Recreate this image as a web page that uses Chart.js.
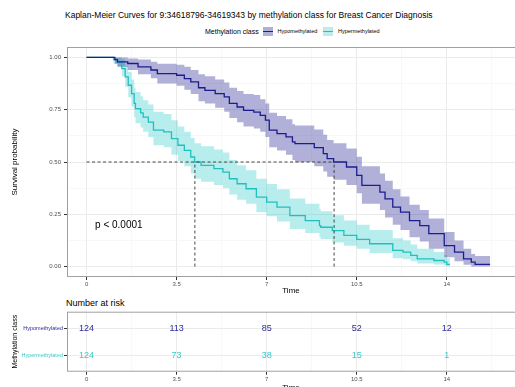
<!DOCTYPE html>
<html lang="en">
<head>
<meta charset="UTF-8" />
<title>Kaplan-Meier Curves</title>
<script src="https://cdn.jsdelivr.net/npm/chart.js"></script>
<style>
  body {
    margin: 0;
    width: 515px;
    height: 387px;
    overflow: hidden;
    background: #fff;
    position: relative;
    font-family: "Liberation Sans", Arial, sans-serif;
    color: #000;
  }
  .abs { position: absolute; white-space: nowrap; }
  #title { left: 65px; top: 10px; font-size: 8.5px; line-height: 10px; }
  #legTitle { left: 205px; top: 27.5px; font-size: 7px; line-height: 8px; }
  .key { width: 10px; height: 9px; top: 27px; }
  .key div { position: absolute; left: 0; right: 0; top: 3.7px; height: 1.6px; }
  .keyLabel { top: 28px; font-size: 5.5px; line-height: 7px; }
  #riskTitle { left: 66px; top: 297px; font-size: 9px; line-height: 12px; }
  #mainWrap { left: 0; top: 0; }
  #riskWrap { left: 0; top: 295px; }
</style>
</head>
<body>
  <div class="abs" id="title">Kaplan-Meier Curves for 9:34618796-34619343 by methylation class for Breast Cancer Diagnosis</div>
  <div class="abs" id="legTitle">Methylation class</div>
  <div class="abs key" style="left:263px;background:#b0b0d8"><div style="background:#1c1c8c"></div></div>
  <div class="abs keyLabel" style="left:277.5px">Hypomethylated</div>
  <div class="abs key" style="left:323px;background:#bcecec"><div style="background:#22bfbf"></div></div>
  <div class="abs keyLabel" style="left:338px">Hypermethylated</div>
  <div class="abs" id="riskTitle">Number at risk</div>

  <div class="abs" id="mainWrap"><canvas id="main" width="515" height="300"></canvas></div>
  <div class="abs" id="riskWrap"><canvas id="risk" width="515" height="105"></canvas></div>

<script>
// survival curves
const hypoTimes = [0, 1.1, 1.2, 1.6, 2.0, 2.5, 2.75, 3.5, 3.8, 4.05, 4.35, 4.6, 5.0, 5.35, 5.55, 5.85, 6.1, 6.5, 6.75, 6.95, 7.1, 7.4, 7.75, 8.0, 8.1, 8.85, 9.2, 9.35, 9.6, 10.1, 10.5, 10.7, 11.4, 11.6, 11.9, 12.2, 12.55, 12.95, 13.3, 13.9, 14.3, 14.65, 14.95, 15.1, 15.68];
const hypoSurv = [1.0, 0.99, 0.979, 0.971, 0.955, 0.94, 0.923, 0.915, 0.899, 0.883, 0.855, 0.843, 0.827, 0.811, 0.78, 0.763, 0.747, 0.739, 0.723, 0.70, 0.652, 0.636, 0.62, 0.596, 0.588, 0.569, 0.54, 0.516, 0.50, 0.476, 0.436, 0.388, 0.356, 0.324, 0.284, 0.26, 0.22, 0.196, 0.157, 0.10, 0.069, 0.037, 0.021, 0.01, 0.01];
const hypoUpper = [1.0, 1.0, 1.0, 0.995, 0.99, 0.98, 0.97, 0.965, 0.955, 0.94, 0.92, 0.91, 0.895, 0.88, 0.855, 0.84, 0.825, 0.82, 0.80, 0.78, 0.735, 0.72, 0.705, 0.68, 0.675, 0.655, 0.63, 0.605, 0.59, 0.565, 0.525, 0.48, 0.445, 0.41, 0.37, 0.335, 0.295, 0.27, 0.23, 0.165, 0.125, 0.085, 0.06, 0.05, 0.05];
const hypoLower = [1.0, 0.97, 0.955, 0.94, 0.92, 0.90, 0.875, 0.865, 0.845, 0.825, 0.79, 0.78, 0.76, 0.74, 0.71, 0.69, 0.67, 0.66, 0.645, 0.62, 0.57, 0.555, 0.535, 0.51, 0.50, 0.48, 0.455, 0.43, 0.415, 0.39, 0.35, 0.30, 0.27, 0.235, 0.20, 0.175, 0.14, 0.12, 0.085, 0.045, 0.025, 0.008, 0.0, 0.0, 0.0];

const hyperTimes = [0, 1.05, 1.2, 1.37, 1.5, 1.62, 1.75, 1.85, 1.9, 2.1, 2.2, 2.4, 2.6, 3.0, 3.3, 3.55, 3.8, 4.05, 4.2, 4.45, 4.95, 5.3, 5.55, 5.85, 6.2, 6.6, 7.0, 7.4, 7.9, 8.5, 9.05, 9.1, 9.55, 10.0, 10.5, 11.0, 11.9, 12.3, 12.6, 12.85, 13.5, 13.9, 14.0, 14.12];
const hyperSurv = [1.0, 0.99, 0.979, 0.947, 0.907, 0.867, 0.827, 0.78, 0.755, 0.735, 0.715, 0.691, 0.652, 0.644, 0.612, 0.58, 0.556, 0.524, 0.50, 0.484, 0.468, 0.452, 0.42, 0.396, 0.372, 0.332, 0.308, 0.284, 0.244, 0.22, 0.196, 0.188, 0.172, 0.149, 0.13, 0.109, 0.077, 0.069, 0.053, 0.037, 0.029, 0.021, 0.01, 0.01];
const hyperUpper = [1.0, 1.0, 1.0, 0.99, 0.96, 0.93, 0.895, 0.855, 0.835, 0.815, 0.795, 0.775, 0.74, 0.73, 0.70, 0.67, 0.645, 0.615, 0.59, 0.575, 0.56, 0.545, 0.51, 0.485, 0.46, 0.42, 0.395, 0.37, 0.325, 0.30, 0.275, 0.265, 0.245, 0.22, 0.20, 0.175, 0.135, 0.125, 0.105, 0.085, 0.07, 0.055, 0.04, 0.04];
const hyperLower = [1.0, 0.97, 0.955, 0.91, 0.86, 0.81, 0.765, 0.715, 0.685, 0.665, 0.645, 0.62, 0.58, 0.57, 0.535, 0.505, 0.48, 0.445, 0.42, 0.405, 0.39, 0.375, 0.345, 0.32, 0.30, 0.26, 0.24, 0.215, 0.18, 0.16, 0.14, 0.13, 0.115, 0.10, 0.085, 0.065, 0.04, 0.035, 0.025, 0.015, 0.01, 0.005, 0.0, 0.0];

// median survival times
const hypoMedian = 9.62;
const hyperMedian = 4.21;

// number at risk table
const riskTimes = [0, 3.5, 7, 10.5, 14];
const hypoRisk = [124, 113, 85, 52, 12];
const hyperRisk = [124, 73, 38, 15, 1];

const xTickValues = [0, 1.75, 3.5, 5.25, 7, 8.75, 10.5, 12.25, 14, 15.75];
const yTickValues = [0, 0.125, 0.25, 0.375, 0.5, 0.625, 0.75, 0.875, 1];
const yTickLabels = ["0.00", "", "0.25", "", "0.50", "", "0.75", "", "1.00"];

const navy = "#1c1c8c";
const navyFill = "rgba(0, 0, 128, 0.31)";
const cyan = "#22bfbf";
const cyanFill = "rgba(34, 200, 200, 0.32)";
const fontFamily = '"Liberation Sans", Arial, sans-serif';

const pts = (xs, ys) => xs.map((x, i) => ({ x: x, y: ys[i] }));
const isMajorX = v => Math.abs(v / 3.5 - Math.round(v / 3.5)) < 1e-6;
const isMajorY = v => Math.abs(v / 0.25 - Math.round(v / 0.25)) < 1e-6;

const xScale = (height, titlePad) => ({
  type: "linear",
  min: -0.76,
  max: 16.65,
  afterBuildTicks: s => { s.ticks = xTickValues.map(v => ({ value: v })); },
  afterFit: s => { s.height = height; },
  grid: {
    color: c => isMajorX(c.tick.value) ? "#ebebeb" : "#f4f4f4",
    lineWidth: c => isMajorX(c.tick.value) ? 1 : 0.6,
    tickColor: c => isMajorX(c.tick.value) ? "#333" : "rgba(0,0,0,0)",
    tickLength: 3
  },
  border: { display: false },
  ticks: {
    autoSkip: false,
    maxRotation: 0,
    padding: 1,
    color: "#4d4d4d",
    font: { family: fontFamily, size: 6 },
    callback: v => isMajorX(v) ? String(v) : ""
  },
  title: {
    display: true,
    text: "Time",
    color: "#000",
    font: { family: fontFamily, size: 8 },
    padding: { top: 0, bottom: titlePad }
  }
});

const panelBorder = {
  id: "panelBorder",
  afterDatasetsDraw(chart) {
    const a = chart.chartArea, ctx = chart.ctx;
    ctx.save();
    ctx.strokeStyle = "#a0a0a0";
    ctx.lineWidth = 1;
    ctx.strokeRect(a.left + 0.5, a.top + 0.5, a.right - a.left, a.bottom - a.top - 1);
    ctx.restore();
  }
};

const pValueLabel = {
  id: "pValueLabel",
  afterDatasetsDraw(chart) {
    const ctx = chart.ctx;
    ctx.save();
    ctx.font = "10px " + fontFamily;
    ctx.fillStyle = "#000";
    ctx.textAlign = "left";
    ctx.textBaseline = "middle";
    ctx.fillText("p < 0.0001", chart.scales.x.getPixelForValue(0.33), chart.scales.y.getPixelForValue(0.196));
    ctx.restore();
  }
};

const band = (xs, ys, color, fill) => ({
  data: pts(xs, ys), stepped: "before", borderWidth: 0, pointRadius: 0,
  backgroundColor: color, borderColor: "rgba(0,0,0,0)", fill: fill, order: 3
});
const curve = (xs, ys, color) => ({
  data: pts(xs, ys), stepped: "before", borderWidth: 1.3, pointRadius: 0,
  borderColor: color, fill: false, order: 1
});
const dashed = data => ({
  data: data, borderWidth: 0.9, pointRadius: 0, borderColor: "#333",
  borderDash: [3, 2.5], fill: false, order: 0
});

new Chart(document.getElementById("main"), {
  type: "line",
  data: {
    datasets: [
      band(hypoTimes, hypoUpper, navyFill, "+1"),
      band(hypoTimes, hypoLower, navyFill, false),
      band(hyperTimes, hyperUpper, cyanFill, "+1"),
      band(hyperTimes, hyperLower, cyanFill, false),
      curve(hypoTimes, hypoSurv, navy),
      curve(hyperTimes, hyperSurv, cyan),
      dashed([{ x: 0, y: 0.5 }, { x: hypoMedian, y: 0.5 }]),
      dashed([{ x: hyperMedian, y: 0 }, { x: hyperMedian, y: 0.5 }]),
      dashed([{ x: hypoMedian, y: 0 }, { x: hypoMedian, y: 0.5 }])
    ]
  },
  options: {
    responsive: false,
    animation: false,
    layout: { padding: { top: 47, right: 0, left: 0, bottom: 0 } },
    plugins: { legend: { display: false }, tooltip: { enabled: false } },
    scales: {
      x: xScale(23, 4),
      y: {
        type: "linear",
        min: -0.05,
        max: 1.05,
        afterBuildTicks: s => { s.ticks = yTickValues.map(v => ({ value: v })); },
        afterFit: s => { s.width = 67; },
        grid: {
          color: c => isMajorY(c.tick.value) ? "#ebebeb" : "#f4f4f4",
          lineWidth: c => isMajorY(c.tick.value) ? 1 : 0.6,
          tickColor: c => isMajorY(c.tick.value) ? "#333" : "rgba(0,0,0,0)",
          tickLength: 3
        },
        border: { display: false },
        ticks: {
          autoSkip: false,
          padding: 3,
          color: "#4d4d4d",
          font: { family: fontFamily, size: 6 },
          callback: (v, i) => yTickLabels[i]
        },
        title: {
          display: true,
          text: "Survival probability",
          color: "#000",
          font: { family: fontFamily, size: 8 },
          padding: { top: 10, bottom: 0 }
        }
      }
    }
  },
  plugins: [panelBorder, pValueLabel]
});

// number at risk
const riskLabels = {
  id: "riskLabels",
  afterDatasetsDraw(chart) {
    const ctx = chart.ctx;
    ctx.save();
    ctx.font = "9px " + fontFamily;
    ctx.textAlign = "center";
    ctx.textBaseline = "middle";
    chart.data.datasets.forEach((ds, di) => {
      const meta = chart.getDatasetMeta(di);
      ctx.fillStyle = ds.borderColor;
      meta.data.forEach((el, i) => ctx.fillText(String(ds.counts[i]), el.x, el.y));
    });
    ctx.restore();
  }
};

new Chart(document.getElementById("risk"), {
  type: "scatter",
  data: {
    datasets: [
      { data: riskTimes.map(t => ({ x: t, y: 2 })), counts: hypoRisk, borderColor: "#2a2a9a", pointRadius: 0 },
      { data: riskTimes.map(t => ({ x: t, y: 1 })), counts: hyperRisk, borderColor: "#3cc8c8", pointRadius: 0 }
    ]
  },
  options: {
    responsive: false,
    animation: false,
    layout: { padding: { top: 16.7, right: 0, left: 0, bottom: 0 } },
    plugins: { legend: { display: false }, tooltip: { enabled: false } },
    scales: {
      x: xScale(28.3, 7),
      y: {
        type: "linear",
        min: 0.4,
        max: 2.6,
        afterBuildTicks: s => { s.ticks = [{ value: 1 }, { value: 2 }]; },
        afterFit: s => { s.width = 67; },
        grid: { color: "#ebebeb", tickColor: "#333", tickLength: 3 },
        border: { display: false },
        ticks: {
          autoSkip: false,
          padding: 1,
          font: { family: fontFamily, size: 5.5 },
          color: c => c.tick.value === 2 ? "#2a2a9a" : "#3cc8c8",
          callback: v => v === 2 ? "Hypomethylated" : v === 1 ? "Hypermethylated" : ""
        },
        title: {
          display: true,
          text: "Methylation class",
          color: "#000",
          font: { family: fontFamily, size: 7 },
          padding: { top: 11, bottom: 0 }
        }
      }
    }
  },
  plugins: [panelBorder, riskLabels]
});
</script>
</body>
</html>
